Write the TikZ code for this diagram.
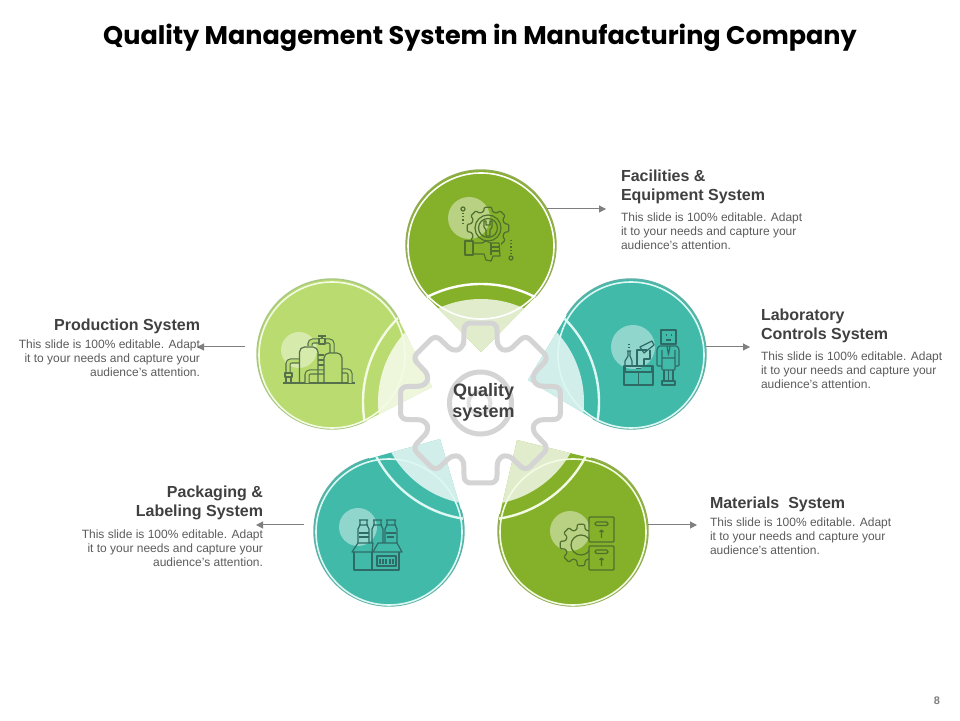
\documentclass[tikz,border=0pt]{standalone}
\usepackage{fontspec}
\setmainfont{Liberation Sans}
\newfontfamily\titlefont{Poppins}
\usetikzlibrary{arrows.meta,calc}
\definecolor{greenA}{HTML}{85B12A}
\definecolor{greenArim}{HTML}{93AD55}
\definecolor{greenAring}{HTML}{F4FBE4}
\definecolor{greenB}{HTML}{B9DB70}
\definecolor{greenBrim}{HTML}{A9C883}
\definecolor{greenBring}{HTML}{F4FBE4}
\definecolor{tealA}{HTML}{42BAA9}
\definecolor{tealArim}{HTML}{5DB1A6}
\definecolor{tealAring}{HTML}{DDF8F3}
\definecolor{gearcol}{HTML}{D4D4D4}
\definecolor{headcol}{HTML}{404040}
\definecolor{bodycol}{HTML}{5C5C5C}
\definecolor{arrcol}{HTML}{7F7F7F}
\definecolor{iconG}{HTML}{4F6F2C}
\definecolor{iconL}{HTML}{55704A}
\definecolor{iconT}{HTML}{2F6B66}
\tikzset{
  headtxt/.style={inner sep=0pt,outer sep=0pt,text=headcol,font=\fontsize{16}{19}\selectfont\bfseries},
  bodytxt/.style={inner sep=0pt,outer sep=0pt,text=bodycol,font=\fontsize{12}{14}\selectfont},
  arr/.style={draw=arrcol,line width=1pt,-{Triangle[length=7pt,width=7pt]}},
  petalnode/.style={circle,minimum size=150pt,inner sep=0pt,outer sep=0pt},
  gearline/.style={draw=gearcol,line width=5pt,line join=round},
  ico/.style={line width=1.2pt,line join=round},
  pipe/.style={line width=1.1pt,double distance=3pt,rounded corners=3pt},
}
% \petal{name}{cx}{cy(px)}{tipx}{tipy(px)}{fill}{rim}{ring}
\newcommand{\petal}[8]{%
  \pgfmathsetmacro\pdx{#4-#2}%
  \pgfmathsetmacro\pdy{#3-#5}%
  \pgfmathsetmacro\pal{atan2(\pdy,\pdx)}%
  \pgfmathsetmacro\pbe{acos(75/sqrt(\pdx*\pdx+\pdy*\pdy))}%
  \pgfmathsetmacro\pst{\pal+\pbe}%
  \pgfmathsetmacro\pen{\pal-\pbe+360}%
  \pgfmathsetmacro\pcy{720-#3}%
  \pgfmathsetmacro\pty{720-#5}%
  \def\tear{(#4,\pty) -- ($(#2,\pcy)+(\pst:75pt)$) arc[start angle=\pst,end angle=\pen,radius=75pt] -- cycle}%
  \node[petalnode] (#1) at (#2,\pcy) {};%
  \fill[#6] \tear;%
  \draw[#7,line width=1.4pt] ($(#2,\pcy)+(\pst:75pt)$) arc[start angle=\pst,end angle=\pen,radius=75pt];%
  \begin{scope}
    \clip \tear;
    \fill[white,opacity=.76] (481,318) circle[radius=103pt];
    \draw[#8,line width=2.4pt] (481,318) circle[radius=118pt];
    \draw[#8,line width=1.6pt] (#2,\pcy-1) circle[radius=73pt];
  \end{scope}
}
% small gear, px coords inside flipped scope
\newcommand{\minigear}[5]{%
  \draw[ico,#5,rounded corners=1pt] ($(#1,#2)+(-15:#4)$) \foreach \ga in {0,45,...,315}{
     -- ($(#1,#2)+(\ga-15:#4)$) -- ($(#1,#2)+(\ga-10:#3)$) -- ($(#1,#2)+(\ga+10:#3)$) -- ($(#1,#2)+(\ga+15:#4)$)
  } -- cycle;
}
\begin{document}
\begin{tikzpicture}[x=1pt,y=1pt]
\useasboundingbox (0,0) rectangle (960,720);
\fill[white] (0,0) rectangle (960,720);

\node (title) at (480,682) {\titlefont\fontsize{25.5}{30}\selectfont\bfseries Quality Management System in Manufacturing Company};

% petals
\petal{p1}{481}{245}{481}{352}{greenA}{greenArim}{white}
\petal{p2}{631}{354}{528}{380}{tealA}{tealArim}{tealAring}
\petal{p3}{573}{531}{517}{440}{greenA}{greenArim}{greenAring}
\petal{p4}{389}{531}{440}{439}{tealA}{tealArim}{tealAring}
\petal{p5}{332}{354}{432}{387}{greenB}{greenBrim}{greenBring}

% pale discs behind the icons
\fill[white,opacity=.42] (469,502) circle[radius=21pt];
\fill[white,opacity=.42] (633,373) circle[radius=22pt];
\fill[white,opacity=.42] (570,189) circle[radius=20pt];
\fill[white,opacity=.42] (358,193) circle[radius=19pt];
\fill[white,opacity=.42] (299,370) circle[radius=18pt];

% gear
\begin{scope}[shift={(480.5,317)}]
  \draw[gearline,rounded corners=6pt] (107:58) \foreach \a in {90,45,0,-45,-90,-135,-180,-225}{
     -- (\a+17:58) -- (\a+11.5:81.6) -- (\a-11.5:81.6) -- (\a-17:58)
  } -- cycle;
  \draw[draw=gearcol,line width=5pt] (0,0) circle[radius=31pt];
  \draw[draw=gearcol!70,line width=4pt] (-1,0) circle[radius=11pt];
\end{scope}
\node[inner sep=0pt,align=center,text=headcol,font=\fontsize{18}{21}\selectfont\bfseries] (qs) at (483.5,317.5) {Quality\\system};

% icons, written in picture pixels
\begin{scope}[shift={(0,720)},yscale=-1]
  % top: gear, wrench, hand
  \begin{scope}
    \minigear{488}{228}{21}{17}{iconG}
    \draw[ico,iconG] (488,228) circle[radius=13pt] (488,228) circle[radius=9.5pt];
    \draw[ico,iconG] (484,221) -- (484,227) -- (486,230) -- (486,236) -- (490,236) -- (490,230) -- (492,227) -- (492,221) -- (490,221) -- (490,225) -- (486,225) -- (486,221) -- cycle;
    \fill[greenA] (473,241) rectangle (501,258);
    \draw[ico,iconG] (465,241) rectangle (473,255);
    \draw[ico,iconG] (473,243) -- (482,243) -- (486,241) -- (491,243) -- (499,243) -- (500,256) -- (493,256) -- (491,261) -- (486,260) -- (484,254) -- (473,254);
    \draw[ico,iconG] (491,247) -- (500,247) (491,251) -- (500,251) (491,255) -- (491,243);
    \draw[ico,iconG] (463,209) circle[radius=2pt] (511,258) circle[radius=2pt];
    \draw[ico,iconG,dotted] (463,213) -- (463,224) (511,254) -- (511,240);
  \end{scope}
  % right: lab
  \begin{scope}
    \draw[ico,iconT] (661,330) rectangle (676,344);
    \draw[ico,iconT] (666,335) -- (667,335) (671,335) -- (672,335) (666,340) -- (671,340);
    \draw[ico,iconT,rounded corners=1pt] (659,346) -- (677,346) -- (679,349) -- (679,366) -- (675,366) -- (675,370) -- (662,370) -- (662,366) -- (657,366) -- (657,349) -- cycle;
    \draw[ico,iconT] (662,350) -- (662,366) (675,350) -- (675,366) (662,358) -- (675,358) (667,346) -- (668.5,355) -- (670,346);
    \draw[ico,iconT] (664,370) -- (664,381) (673,370) -- (673,381) (668.5,370) -- (668.5,381);
    \draw[ico,iconT] (662,385) -- (662,381) -- (675,381) -- (675,385) -- cycle;
    \draw[ico,iconT] (624,366) rectangle (653,385) (625,366) -- (625,372) -- (652,372) -- (652,366) (638.5,372) -- (638.5,385);
    \draw[ico,iconT] (636,368.5) -- (641,368.5);
    \draw[ico,iconT] (627,351) -- (631,351) (628,351) -- (628,356) -- (625,361) -- (625,366) (630,351) -- (630,356) -- (632,361) -- (632,366);
    \draw[ico,iconT,dotted] (629,344) -- (629,349);
    \draw[ico,iconT] (637,366) -- (637,350) -- (647,350) (644,366) -- (644,359) -- (650,359) -- (650,350);
    \draw[ico,iconT] (640,347) -- (652,341) -- (654,345) -- (644,353) -- cycle;
  \end{scope}
  % lower right: gear and boxes
  \begin{scope}
    \begin{scope}
      \clip (540,510) rectangle (589,580);
      \minigear{581}{545}{21}{16}{iconG}
      \draw[ico,iconG] (581,545) circle[radius=10pt];
    \end{scope}
    \draw[ico,iconG,rounded corners=1pt] (589,517) rectangle (614,542) (589,546) rectangle (614,570);
    \draw[ico,iconG,rounded corners=1.5pt] (595,522) rectangle (608,525.5) (595,550) rectangle (608,553.5);
    \draw[ico,iconG] (601.5,538) -- (601.5,530) (599.5,532) -- (601.5,530) -- (603.5,532);
    \draw[ico,iconG] (601.5,566) -- (601.5,558) (599.5,560) -- (601.5,558) -- (603.5,560);
  \end{scope}
  % lower left: bottles and boxes
  \begin{scope}
    \foreach \bx/\bw in {363.5/5.5,377.5/5.5,391/6}{
      \draw[ico,iconT] (\bx-\bw+1,520) -- (\bx+\bw-1,520) (\bx-\bw+2,520) -- (\bx-\bw+2,525) (\bx+\bw-2,520) -- (\bx+\bw-2,525)
        (\bx-\bw+1,525) -- (\bx+\bw-1,525) (\bx-\bw+2,525) -- (\bx-\bw,529) -- (\bx-\bw,543) (\bx+\bw-2,525) -- (\bx+\bw,529) -- (\bx+\bw,543);
    }
    \draw[ico,iconT] (359,533) -- (369,533) (359,537) -- (369,537) (386,533) -- (396,533) (387,537) -- (394,537);
    \draw[ico,iconT] (352,552) -- (358,543) -- (373,543) -- (372,552) -- cycle;
    \draw[ico,iconT] (373,552) -- (378,543) -- (397,543) -- (402,552) -- cycle;
    \draw[ico,iconT] (354,552) -- (354,570) -- (399,570) -- (399,552) (372,552) -- (372,570);
    \draw[ico,iconT] (377,556) rectangle (396,566);
    \draw[ico,iconT] (380,559) -- (380,564) (383,559) -- (383,564) (386,559) -- (386,564) (390,559) -- (390,564) (393,559) -- (393,564);
  \end{scope}
  % left: plant
  \begin{scope}
    \draw[ico,iconL,line width=1.4pt] (283,383) -- (355,383);
    \draw[pipe,iconL,double=greenB] (310,346) -- (310,341) -- (332,341) -- (332,353);
    \draw[pipe,iconL,double=greenB] (288,373) -- (288,361) -- (299,361);
    \draw[pipe,iconL,double=greenB] (307,383) -- (307,372) -- (324,372);
    \draw[pipe,iconL,double=greenB] (342,371) -- (350,371) -- (350,383);
    \draw[ico,iconL,rounded corners=5pt] (299.5,383) -- (299.5,347) -- (318,347) -- (318,383);
    \draw[ico,iconL,rounded corners=5pt] (324,383) -- (324,353) -- (342,353) -- (342,383);
    \draw[ico,iconL] (318,355) -- (324,355) (318,360) -- (324,360) (318,365) -- (324,365);
    \draw[ico,iconL,fill=greenB] (319,338.5) rectangle (325,344);
    \draw[ico,iconL] (322,338.5) -- (322,336) (318,336) -- (326,336);
    \draw[ico,iconL] (285,373) rectangle (292,377) (286,377) rectangle (291,383);
  \end{scope}
\end{scope}

% connectors
\coordinate (e1) at (606,511);
\coordinate (e2) at (750,373);
\coordinate (e3) at (697,195);
\coordinate (s4) at (304,195);
\coordinate (e4) at (256,195);
\coordinate (s5) at (245,373);
\coordinate (e5) at (197,373);
\draw[arr] (p1.28.7 |- e1) -- (e1);
\draw[arr] (p2.5.3 |- e2) -- (e2);
\draw[arr] (p3.4.6 |- e3) -- (e3);
\draw[arr] (s4) -- (e4);
\draw[arr] (s5) -- (e5);

% labels
\node[headtxt,anchor=base west,align=left] (h1) at (621,519.5) {Facilities \&\\Equipment System};
\node[bodytxt,anchor=north west,align=left] (b1) at (621,507) {This slide is 100\% editable. Adapt\\it to your needs and capture your\\audience's attention.};
\node[headtxt,anchor=base west,align=left] (h2) at (761,380.5) {Laboratory\\Controls System};
\node[bodytxt,anchor=north west,align=left] (b2) at (761,368.5) {This slide is 100\% editable. Adapt\\it to your needs and capture your\\audience's attention.};
\node[headtxt,anchor=base west,align=left] (h3) at (710,211.5) {Materials\ \ System};
\node[bodytxt,anchor=north west,align=left] (b3) at (710,202) {This slide is 100\% editable. Adapt\\it to your needs and capture your\\audience's attention.};
\node[headtxt,anchor=base east,align=right] (h4) at (263,203) {Packaging \&\\Labeling System};
\node[bodytxt,anchor=north east,align=right] (b4) at (263,190.5) {This slide is 100\% editable. Adapt\\it to your needs and capture your\\audience's attention.};
\node[headtxt,anchor=base east,align=right] (h5) at (200,389) {Production System};
\node[bodytxt,anchor=north east,align=right] (b5) at (200,380) {This slide is 100\% editable. Adapt\\it to your needs and capture your\\audience's attention.};
\node[inner sep=0pt,text=arrcol,font=\fontsize{11}{12}\selectfont\bfseries] (pg) at (937,19) {8};
\end{tikzpicture}
\end{document}
